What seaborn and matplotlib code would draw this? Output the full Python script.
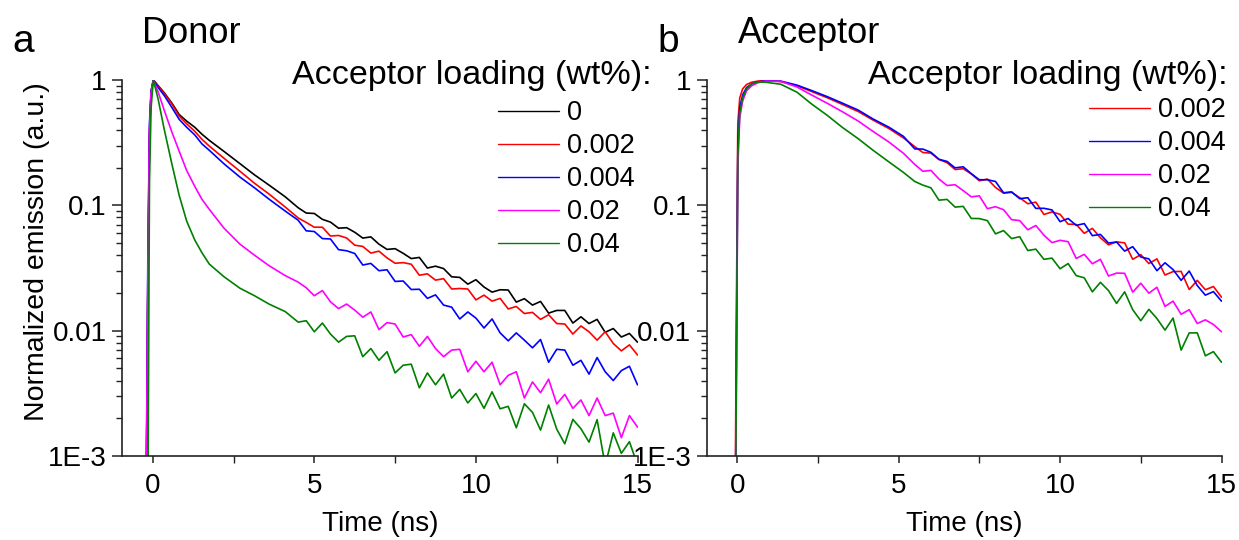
import numpy as np
import pandas as pd
import matplotlib
matplotlib.use('Agg')
import matplotlib.pyplot as plt
import seaborn as sns
from matplotlib.ticker import LogLocator, NullFormatter, MultipleLocator
from matplotlib.lines import Line2D

sns.set_style('ticks')
plt.rcParams['font.family'] = ['Liberation Sans', 'DejaVu Sans']
plt.rcParams.update({'text.color': 'black', 'axes.labelcolor': 'black',
                     'xtick.color': 'black', 'ytick.color': 'black'})

# ---------------- donor panel (a) ----------------
t_donor = [-0.22, -0.15, -0.1, -0.05, 0.02, 0.17, 0.36, 0.6, 0.82, 1.05, 1.3, 1.52, 1.75, 2.2, 2.7, 3.15, 3.6, 4.1,
           4.5, 4.75, 5.0, 5.25, 5.5, 5.75, 6.0, 6.25, 6.5, 6.75, 7.0, 7.25, 7.5, 7.75, 8.0, 8.25, 8.5, 8.75,
           9.0, 9.25, 9.5, 9.75, 10.0, 10.25, 10.5, 10.75, 11.0, 11.25, 11.5, 11.75, 12.0, 12.25, 12.5, 12.75,
           13.0, 13.25, 13.5, 13.75, 14.0, 14.25, 14.5, 14.75, 15.0]

donor_0 = [1e-4, 0.02, 0.35, 0.8, 1.0, 0.9, 0.79, 0.65, 0.53, 0.47, 0.42, 0.37, 0.33, 0.27, 0.215, 0.175, 0.145, 0.117,
           .0957, .0868, .0861, .0773, .0735, .0657, .0663, .0610, .0548, .0560, .0490, .0445, .0451, .0414, .0376,
           .0384, .0316, .0327, .0313, .0269, .0266, .0235, .0255, .0223, .0203, .0212, .0211, .0169, .0180, .0160,
           .0171, .0138, .0145, .0145, .0115, .0129, .0114, .0123, .0097, .0104, .0089, .0095, .0081]
donor_002 = [1e-4, 0.025, 0.38, 0.8, 1.0, 0.89, 0.78, 0.64, 0.515, 0.447, 0.39, 0.337, 0.297, 0.238, 0.187, 0.150, 0.123, 0.097,
             .0794, .0730, .0669, .0669, .0569, .0575, .0549, .0481, .0470, .0416, .0431, .0381, .0345, .0349, .0339,
             .0277, .0284, .0253, .0260, .0215, .0217, .0215, .0176, .0192, .0172, .0181, .0149, .0156, .0137, .0140,
             .0123, .0134, .0114, .0113, .0094, .0109, .0098, .0084, .0098, .0079, .0069, .0077, .0064]
donor_004 = [1e-4, 0.04, 0.45, 0.82, 1.0, 0.87, 0.75, 0.6, 0.485, 0.42, 0.365, 0.31, 0.275, 0.215, 0.168, 0.138, 0.112, 0.090,
             .0761, .0626, .0618, .0543, .0539, .0443, .0434, .0413, .0334, .0344, .0301, .0306, .0247, .0249, .0213,
             .0214, .0181, .0193, .0160, .0154, .0124, .0141, .0126, .0105, .0124, .0096, .0083, .0096, .0084, .0073,
             .0085, .0056, .0071, .0070, .0053, .0058, .0045, .0061, .0047, .0040, .0048, .0052, .0037]
donor_02 = [1e-4, 0.03, 0.4, 0.8, 1.0, 0.8, 0.57, 0.38, 0.27, 0.19, 0.142, 0.112, 0.093, 0.066, 0.049, 0.040, 0.033, 0.0275,
            .0244, .0220, .0190, .0209, .0170, .0150, .0163, .0146, .0128, .0141, .0102, .0116, .0113, .0089, .0093,
            .0075, .0090, .0072, .0062, .0070, .0071, .0047, .0057, .0047, .0056, .0037, .0044, .0047, .0029, .0039,
            .0032, .0041, .0026, .0031, .0024, .0028, .0021, .0029, .0021, .0022, .0014, .0021, .0017]
donor_04 = [1e-4, 3e-4, 0.15, 0.6, 1.0, 0.7, 0.4, 0.21, 0.12, 0.075, 0.053, 0.042, 0.034, 0.027, 0.0218, 0.019, 0.0163, 0.0142,
            .0117, .0120, .0098, .0115, .0094, .0081, .0090, .0091, .0062, .0072, .0058, .0068, .0046, .0053, .0054,
            .0035, .0046, .0037, .0045, .0029, .0034, .00265, .00315, .0024, .00325, .00238, .00249, .00168, .00261,
            .00223, .00161, .00255, .00164, .00125, .00196, .00165, .00129, .00195, .00084, .00153, .00105, .0013, .00085]

# ---------------- acceptor panel (b) ----------------
t_acc = [-0.25, -0.07, -0.02, 0.02, 0.08, 0.17, 0.29, 0.45, 0.64, 0.88, 1.35, 1.85, 2.3, 2.8, 3.25, 3.75, 4.2, 4.7, 5.15,
         5.5, 5.75, 6.0, 6.25, 6.5, 6.75, 7.0, 7.25, 7.5, 7.75, 8.0, 8.25, 8.5, 8.75, 9.0, 9.25, 9.5, 9.75, 10.0,
         10.25, 10.5, 10.75, 11.0, 11.25, 11.5, 11.75, 12.0, 12.25, 12.5, 12.75, 13.0, 13.25, 13.5, 13.75, 14.0,
         14.25, 14.5, 14.75, 15.0]

acc_002 = [1e-4, 2e-4, 0.02, 0.45, 0.72, 0.85, 0.92, 0.96, 0.98, 0.995, 0.97, 0.90, 0.81, 0.72, 0.64, 0.56, 0.48, 0.41, 0.345,
           .294, .264, .261, .232, .219, .193, .196, .178, .157, .162, .139, .125, .127, .115, .103, .106, .0845, .0886,
           .0848, .0708, .0704, .0598, .0655, .0551, .0484, .0511, .0502, .0371, .0404, .0343, .0374, .0278, .0296,
           .0297, .0213, .0252, .0212, .0225, .0185]
acc_004 = [1e-4, 1e-4, 0.01, 0.3, 0.6, 0.76, 0.87, 0.93, 0.965, 0.985, 0.98, 0.91, 0.825, 0.735, 0.655, 0.575, 0.49, 0.42, 0.355,
           .282, .281, .265, .233, .224, .199, .203, .179, .160, .160, .155, .126, .128, .113, .115, .0945, .0947, .0919,
           .0741, .0785, .0692, .0715, .0573, .0586, .0500, .0510, .0431, .0468, .0387, .0374, .0301, .0348, .0307,
           .0252, .0299, .0229, .0192, .0205, .0172]
acc_02 = [1e-4, 1e-4, 0.005, 0.2, 0.5, 0.68, 0.82, 0.9, 0.95, 0.98, 0.975, 0.88, 0.76, 0.65, 0.56, 0.47, 0.39, 0.32, 0.26,
          .212, .187, .190, .162, .144, .146, .131, .117, .119, .094, .0975, .0923, .0768, .0756, .0638, .0690, .0578,
          .0504, .0526, .0513, .0377, .0406, .0342, .0371, .0273, .0288, .0287, .0203, .0239, .0199, .0222, .0156,
          .0172, .0135, .0147, .0114, .0122, .0112, .0098]
acc_04 = [1e-4, 1e-4, 0.006, 0.25, 0.55, 0.72, 0.85, 0.93, 0.965, 0.96, 0.925, 0.80, 0.645, 0.52, 0.42, 0.34, 0.276, 0.222, 0.183,
          .155, .145, .138, .110, .1115, .0968, .0981, .0786, .0784, .0755, .0592, .0629, .0543, .0562, .0436, .0447,
          .0371, .0379, .0312, .0343, .0275, .0264, .0204, .0243, .0209, .0165, .0204, .0147, .0120, .0148, .0125,
          .0101, .0126, .0070, .0096, .0096, .0063, .0068, .0056]

donor_series = {'0': donor_0, '0.002': donor_002, '0.004': donor_004, '0.02': donor_02, '0.04': donor_04}
acc_series = {'0.002': acc_002, '0.004': acc_004, '0.02': acc_02, '0.04': acc_04}

colors = {'0': '#000000', '0.002': '#ff0000', '0.004': '#0000ff', '0.02': '#ff00ff', '0.04': '#008000'}

FS = 20
W, H = 1239, 540


def long_df(t, series):
    return pd.concat([pd.DataFrame({'t': t, 'v': v, 'load': k}) for k, v in series.items()], ignore_index=True)


def style_axis(ax):
    ax.set_yscale('log')
    ax.set_xlim(-0.95, 15)
    ax.set_ylim(1e-3, 1)
    ax.set_xticks([0, 5, 10, 15])
    ax.xaxis.set_minor_locator(MultipleLocator(2.5))
    ax.set_yticks([1e-3, 1e-2, 1e-1, 1], labels=['1E-3', '0.01', '0.1', '1'])
    ax.yaxis.set_minor_locator(LogLocator(base=10, subs=np.arange(2, 10), numticks=20))
    ax.yaxis.set_minor_formatter(NullFormatter())
    ax.tick_params(axis='both', which='major', direction='out', labelsize=FS, length=7, width=1.1,
                   color='#222222', labelcolor='black')
    ax.tick_params(axis='both', which='minor', direction='out', length=4, width=1.0, color='#222222')
    ax.tick_params(axis='x', which='major', pad=7, length=5)
    ax.tick_params(axis='x', which='minor', length=5)
    ax.tick_params(axis='y', which='major', pad=4)
    for s in ['top', 'right']:
        ax.spines[s].set_visible(False)
    for s in ['left', 'bottom']:
        ax.spines[s].set_color('#222222')
        ax.spines[s].set_linewidth(1.2)
    ax.set_xlabel('Time (ns)', fontsize=FS, labelpad=9, color='black')
    ax.set_ylabel('')


fig = plt.figure(figsize=(W / 100, H / 100), dpi=100)
ax1 = fig.add_axes([122 / W, 84 / H, 515.5 / W, 376 / H])
ax2 = fig.add_axes([706.5 / W, 84 / H, 515 / W, 376 / H])

for ax, t, series in [(ax1, t_donor, donor_series), (ax2, t_acc, acc_series)]:
    ax.set_yscale('log')
    df = long_df(t, series)
    sns.lineplot(data=df, x='t', y='v', hue='load', hue_order=list(series.keys()),
                 palette=colors, estimator=None, sort=False, linewidth=1.2, legend=False, ax=ax)
    style_axis(ax)

    handles = [Line2D([], [], color=colors[k], lw=1.0) for k in series]
    x0 = 498 if ax is ax1 else 1089
    y0 = 113 if ax is ax1 else 110
    leg = ax.legend(handles, list(series.keys()), loc='upper left',
                    bbox_to_anchor=(x0 / W, 1 - (y0 - 13) / H), bbox_transform=fig.transFigure,
                    frameon=False, fontsize=19.5, handlelength=2.25, handletextpad=0.3,
                    labelspacing=0.26, borderpad=0, borderaxespad=0)
    for txt in leg.get_texts():
        txt.set_color('black')

fig.text(37 / W, 1 - 252 / H, 'Normalized emission (a.u.)', rotation=90, ha='center', va='center', fontsize=20.5)

fig.text(12 / W, 1 - 52 / H, 'a', fontsize=28, va='baseline', ha='left')
fig.text(142 / W, 1 - 43 / H, 'Donor', fontsize=26, va='baseline', ha='left')
fig.text(657 / W, 1 - 52 / H, 'b', fontsize=28, va='baseline', ha='left')
fig.text(738 / W, 1 - 43 / H, 'Acceptor', fontsize=26, va='baseline', ha='left')
fig.text(652 / W, 1 - 84 / H, 'Acceptor loading (wt%):', fontsize=24.5, va='baseline', ha='right')
fig.text(1228 / W, 1 - 84 / H, 'Acceptor loading (wt%):', fontsize=24.5, va='baseline', ha='right')

fig.savefig('out.png', dpi=100)
